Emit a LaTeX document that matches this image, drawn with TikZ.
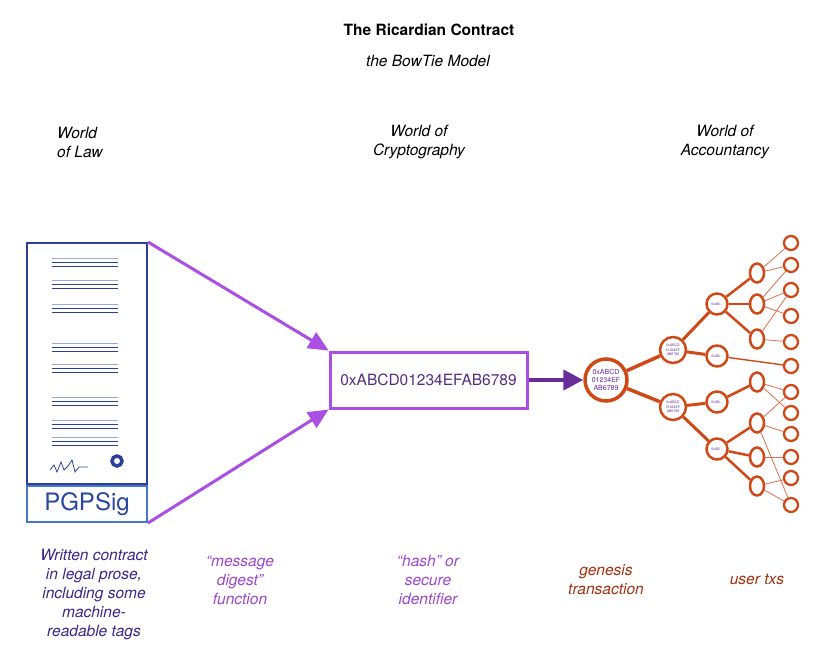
\documentclass[tikz,border=0pt]{standalone}
\usepackage{fontspec}
\setmainfont{TeX Gyre Heros}
\usetikzlibrary{arrows.meta,shapes.geometric}
\definecolor{treec}{RGB}{208,72,22}
\definecolor{treethin}{RGB}{222,110,80}
\definecolor{docblue}{RGB}{44,64,155}
\definecolor{doclight}{RGB}{150,170,220}
\definecolor{pgpblue}{RGB}{70,118,205}
\definecolor{pgptext}{RGB}{40,70,160}
\definecolor{violetc}{RGB}{170,78,228}
\definecolor{darkviolet}{RGB}{105,45,155}
\definecolor{hashtext}{RGB}{85,45,125}
\definecolor{labblue}{RGB}{55,40,140}
\definecolor{labpurple}{RGB}{155,70,205}
\definecolor{labred}{RGB}{165,48,14}
\begin{document}
\begin{tikzpicture}[x=1pt,y=-1pt,
  lab/.style={align=center,font=\fontsize{15.5}{19}\selectfont\itshape,inner sep=0pt},
  tnode/.style={circle,draw=treec,line width=2.5pt,fill=white,inner sep=0pt,text=darkviolet},
  l3node/.style={ellipse,draw=treec,line width=2.5pt,fill=white,inner sep=0pt,minimum width=14pt,minimum height=19pt},
  leaf/.style={circle,draw=treec,line width=2.3pt,fill=white,inner sep=0pt,minimum size=14pt},
  e1/.style={draw=treec,line width=3.5pt},
  e2/.style={draw=treec,line width=3pt},
  e3/.style={draw=treec,line width=2.5pt},
  e4/.style={draw=treethin,line width=0.8pt},
  varrow/.style={draw=violetc,line width=3pt,-{Triangle[length=20pt,width=18pt]}},
]
\useasboundingbox (0,0) rectangle (813,663);

% titles
\node[font=\fontsize{15.5}{19}\selectfont\bfseries,inner sep=0pt] (title) at (429,30) {The Ricardian Contract};
\node[lab] (subtitle) at (428,61) {the BowTie Model};
\node[lab,align=left,anchor=west] (wlaw) at (57,142) {World\\of Law};
\node[lab] (wcrypto) at (419,142) {World of\\Cryptography};
\node[lab] (wacc) at (725,142) {World of\\Accountancy};

% document
\node[draw=docblue,line width=2pt,minimum width=120pt,minimum height=241pt,inner sep=0pt] (doc) at (87,363.5) {};
\node[draw=pgpblue,line width=2pt,minimum width=120pt,minimum height=36pt,inner sep=0pt,text=pgptext,font=\fontsize{24}{26}\selectfont] (pgp) at (87,504) {PGPSig};
\foreach \y in {258,280,304,343,364,397,420,437}{
  \draw[doclight,line width=1pt] (52,\y) -- (118,\y);
  \draw[docblue,line width=1.1pt] (52,\y+4.3) -- (118,\y+4.3);
  \draw[docblue,line width=1.1pt] (52,\y+8.5) -- (118,\y+8.5);
}
\draw[docblue,line width=0.8pt] (50,470) -- (54,465) -- (57,472) -- (61,462) -- (64,470) -- (68,466) -- (72,460) -- (75,472) -- (79,467) -- (88,467);
\draw[docblue,line width=3.5pt] (117,461) circle (5);

% hash
\node[draw=violetc,line width=3pt,minimum width=197pt,minimum height=56pt,inner sep=0pt,text=hashtext,font=\fontsize{15.5}{19}\selectfont] (hash) at (428.5,380) {0xABCD01234EFAB6789};
\draw[varrow] (doc.north east) -- (hash.north west);
\draw[varrow] (pgp.south east) -- (hash.south west);

% tree nodes
\node[tnode,line width=3.5pt,minimum size=42pt,align=center,font=\fontsize{7}{8}\selectfont] (gen) at (606,380) {0xABCD\\01234EF\\AB6789};
\draw[draw=darkviolet,line width=4pt,-{Triangle[length=20pt,width=20pt]}] (hash.east) -- (gen.west);

\node[tnode,minimum size=26pt,align=center,font=\fontsize{3.5}{4.5}\selectfont] (l1a) at (673,350) {0xABCD\\01234EF\\AB6789};
\node[tnode,minimum size=26pt,align=center,font=\fontsize{3.5}{4.5}\selectfont] (l1b) at (673,407) {0xABCD\\01234EF\\AB6789};
\foreach \n/\y in {l2a/304,l2b/356,l2c/402,l2d/449}{
  \node[tnode,minimum size=21pt,font=\fontsize{3.5}{4}\selectfont] (\n) at (717,\y) {0xAB...};
}
\foreach \n/\y in {l3a/273,l3b/304,l3c/339,l3d/382,l3e/423,l3f/457,l3g/486}{
  \node[l3node] (\n) at (757,\y) {};
}
\foreach \n/\y in {f1/243,f2/265,f3/290,f4/316,f5/342,f6/366,f7/392,f8/413,f9/434,f10/457,f11/478,f12/505}{
  \node[leaf] (\n) at (791,\y) {};
}

% tree edges
\draw[e1] (gen) -- (l1a);
\draw[e1] (gen) -- (l1b);
\draw[e2] (l1a) -- (l2a);
\draw[e2] (l1a) -- (l2b);
\draw[e2] (l1b) -- (l2c);
\draw[e2] (l1b) -- (l2d);
\draw[e3] (l2a) -- (l3a);
\draw[e3] (l2a) -- (l3b);
\draw[e3] (l2a) -- (l3c);
\draw[draw=treec,line width=1.4pt] (l2b) -- (f6);
\draw[e3] (l2c) -- (l3d);
\draw[e3] (l2d) -- (l3e);
\draw[e3] (l2d) -- (l3f);
\draw[e3] (l2d) -- (l3g);
\draw[e4] (l3a) -- (f1);
\draw[e4] (l3a) -- (f2);
\draw[e4] (l3b) -- (f2);
\draw[e4] (l3b) -- (f3);
\draw[e4] (l3b) -- (f4);
\draw[e4] (l3c) -- (f3);
\draw[e4] (l3c) -- (f5);
\draw[e4] (l3d) -- (f7);
\draw[e4] (l3d) -- (f8);
\draw[e4] (l3e) -- (f7);
\draw[e4] (l3e) -- (f9);
\draw[e4] (l3e) -- (f12);
\draw[e4] (l3f) -- (f10);
\draw[e4] (l3g) -- (f11);
\draw[e4] (l3g) -- (f12);

% bottom labels
\node[lab,text=labblue] (ldoc) at (94,595) {Written contract\\in legal prose,\\including some\\machine-\\readable tags};
\node[lab,text=labpurple] (ldig) at (240,580) {“message\\digest”\\function};
\node[lab,text=labpurple] (lhash) at (428,580) {“hash” or\\secure\\identifier};
\node[lab,text=labred] (lgen) at (606,580) {genesis\\transaction};
\node[lab,text=labred] (lusr) at (757,579) {user txs};
\end{tikzpicture}
\end{document}
